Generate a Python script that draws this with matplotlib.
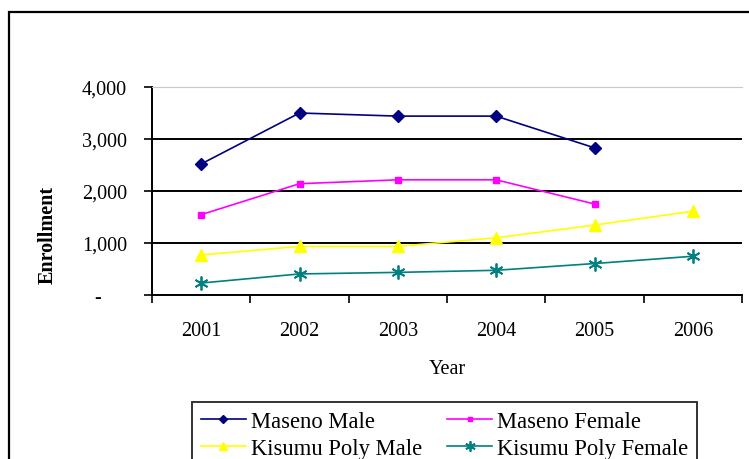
import matplotlib.pyplot as plt
from matplotlib.patches import Rectangle
import numpy as np

plt.rcParams['font.family'] = ['Liberation Serif', 'DejaVu Serif']

years = ['2001', '2002', '2003', '2004', '2005', '2006']
maseno_male = [2520, 3500, 3440, 3440, 2830]
maseno_female = [1545, 2140, 2215, 2215, 1750]
kisumu_male = [770, 935, 935, 1100, 1345, 1610]
kisumu_female = [230, 405, 435, 475, 605, 745]

y_ticks = [0, 1000, 2000, 3000, 4000]
y_labels = ['-     ', '1,000', '2,000', '3,000', '4,000']

fig = plt.figure(figsize=(7.49, 4.6), dpi=100)
W, H = 749, 460
ax = fig.add_axes([152 / W, 1 - 296 / H, 590 / W, 208 / H])

x = np.arange(len(years))
mm, = ax.plot(x[:5], maseno_male, color='#000080', marker='D', markersize=6, lw=1.2,
              label='Maseno Male')
mf, = ax.plot(x[:5], maseno_female, color='#FF00FF', marker='s', markersize=4, lw=1.2,
              label='Maseno Female')
km, = ax.plot(x, kisumu_male, color='#FFFF00', marker='^', markersize=8, lw=1.2,
              label='Kisumu Poly Male')
kf, = ax.plot(x, kisumu_female, color='#008080', marker=(6, 2, 0), markersize=10, lw=1.2,
              markeredgewidth=1.3, label='Kisumu Poly Female')

ax.set_xlim(-0.5, 5.5)
ax.set_ylim(0, 4000)
ax.set_yticks(y_ticks)
ax.set_yticklabels(y_labels, fontsize=14.5)
ax.set_xticks(np.arange(-0.5, 6, 1))
ax.set_xticklabels([])
ax.set_xticks(x, minor=True)
ax.set_xticklabels(years, minor=True, fontsize=14.5)
ax.tick_params(axis='x', which='major', direction='out', length=6, width=1.2)
ax.tick_params(axis='x', which='minor', length=0, pad=19)
ax.tick_params(axis='y', direction='out', length=6, width=1.2, pad=12)

for v in [1000, 2000, 3000]:
    ax.axhline(v, color='black', lw=1.4, zorder=0)

ax.spines['right'].set_visible(False)
ax.spines['top'].set_color('#c8c8c8')
ax.spines['left'].set_linewidth(1.4)
ax.spines['bottom'].set_linewidth(1.4)

fig.text(48 / W, 1 - 235 / H, 'Enrollment', rotation=90, fontsize=14.5,
         fontweight='bold', ha='center', va='center')
fig.text(447 / W, 1 - 370 / H, 'Year', fontsize=14.5, ha='center', va='center')

# row-major order like the original legend
leg = ax.legend([mm, km, mf, kf],
                ['Maseno Male', 'Kisumu Poly Male', 'Maseno Female', 'Kisumu Poly Female'],
                ncol=2, loc='upper left', bbox_to_anchor=(192 / W, 1 - 403 / H),
                bbox_transform=fig.transFigure, fontsize=16.3, frameon=True,
                fancybox=False, edgecolor='black', borderpad=0.38,
                handlelength=2.0, handletextpad=0.22, columnspacing=1.1,
                labelspacing=0.28, borderaxespad=0, markerscale=0.75)
leg.get_frame().set_linewidth(1.4)

fig.patches.append(Rectangle((9 / W, -0.2), 1.2, 1.2 - 13 / H, transform=fig.transFigure,
                             fill=False, edgecolor='black', lw=1.6))

fig.savefig('out.png', dpi=100)
